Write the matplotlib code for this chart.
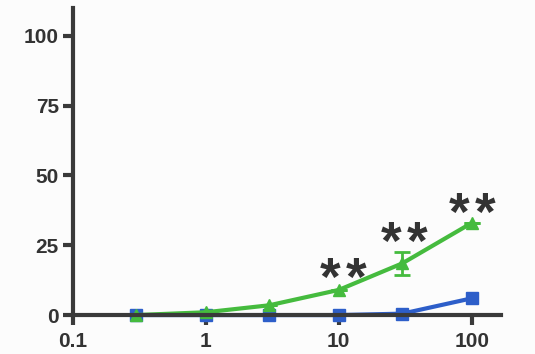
import matplotlib.pyplot as plt
import numpy as np

# concentrations and responses
conc = [0.3, 1, 3, 10, 30, 100]
green_mean = [0, 1.0, 3.5, 9, 18.5, 33]
green_err = [0, 0, 0, 0, 4, 0]
blue_mean = [0, 0, 0, 0, 0.5, 6]
# where the "**" marks sit
stars_x = [10.8, 31, 100]
stars_y = [16, 28.7, 39]

plt.rcParams['font.family'] = ['Liberation Sans', 'DejaVu Sans']
plt.rcParams['font.weight'] = 'bold'

fig = plt.figure(figsize=(5.35, 3.54), dpi=100, facecolor='#fcfcfc')
ax = fig.add_axes([0.136, 0.11, 0.80, 0.868])
ax.set_facecolor('#fcfcfc')

ax.plot(conc, blue_mean, color='#2d5ec9', lw=3, marker='s', ms=8,
        clip_on=False, zorder=3)
ax.errorbar(conc, green_mean, yerr=green_err, color='#45bb3e', lw=3,
            marker='^', ms=9, capsize=6, capthick=2, elinewidth=2,
            clip_on=False, zorder=4)

# two separate asterisks per mark, spaced apart
for x, y in zip(stars_x, stars_y):
    for dx in (-9.5, 9.5):
        ax.annotate('*', (x, y), xytext=(dx, -17.5), textcoords='offset points',
                    ha='center', va='baseline', fontsize=38,
                    color='#333333', fontweight='bold')

ax.set_xscale('log')
ax.set_xlim(0.1, 165)
ax.set_ylim(0, 110)
ax.set_xticks([0.1, 1, 10, 100])
ax.set_xticklabels(['0.1', '1', '10', '100'])
ax.minorticks_off()
ax.set_yticks([0, 25, 50, 75, 100])

for s in ['top', 'right']:
    ax.spines[s].set_visible(False)
for s in ['left', 'bottom']:
    ax.spines[s].set_linewidth(3)
    ax.spines[s].set_color('#3a3a3a')
    ax.spines[s].set_zorder(5)

ax.tick_params(width=3, length=7, color='#3a3a3a', labelsize=15,
               labelcolor='#333333')
ax.tick_params(axis='x', pad=5)
ax.tick_params(axis='y', pad=3)

fig.savefig('out.png', dpi=100, facecolor=fig.get_facecolor())
